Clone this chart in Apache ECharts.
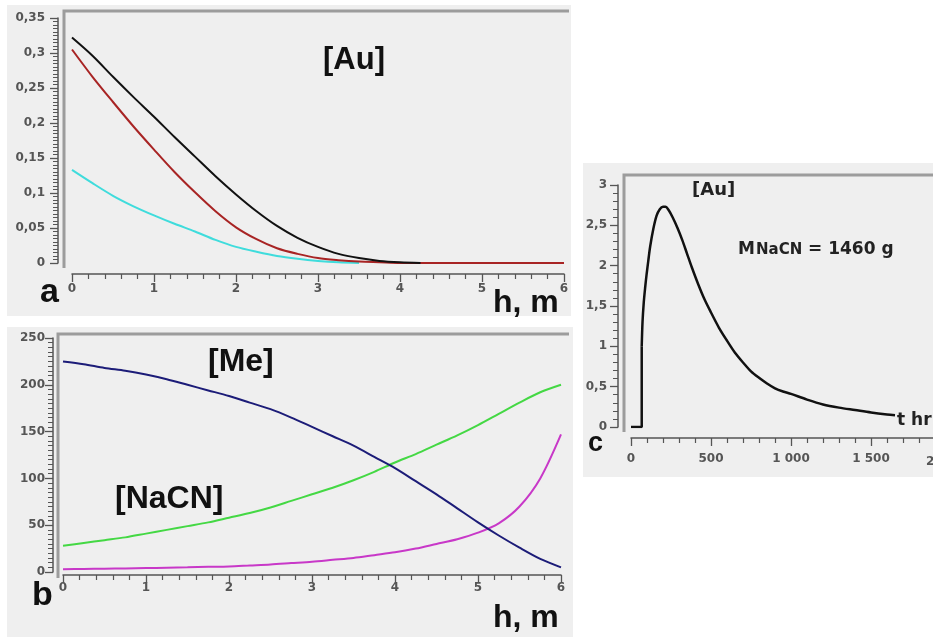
<!DOCTYPE html>
<html>
<head>
<meta charset="utf-8">
<script src="https://cdn.jsdelivr.net/npm/echarts@6/dist/echarts.min.js"></script>
<style>
html,body{margin:0;padding:0;background:#fff;}
#chart{width:933px;height:638px;}
</style>
</head>
<body>
<div id="chart"></div>
<script>
// ---- Panel a: [Au] vs h ----
const hA = [0,0.25,0.5,0.75,1,1.25,1.5,1.75,2,2.25,2.5,2.75,3,3.25,3.5,3.75,4,4.25,4.5,4.75,5,5.25,5.5,5.75,6];
const auBlack = [0.322,0.296,0.266,0.237,0.209,0.180,0.152,0.124,0.098,0.074,0.053,0.036,0.023,0.013,0.007,0.003,0.001,0,null,null,null,null,null,null,null];
const auRed   = [0.305,0.266,0.230,0.195,0.162,0.130,0.101,0.074,0.051,0.034,0.021,0.013,0.007,0.004,0.002,0.001,0,0,0,0,0,0,0,0,0];
const auCyan  = [0.133,0.114,0.096,0.081,0.068,0.056,0.045,0.033,0.023,0.016,0.010,0.006,0.003,0.001,0,null,null,null,null,null,null,null,null,null,null];

// ---- Panel b: [Me], [NaCN] vs h ----
const hB = [0,0.25,0.5,0.75,1,1.25,1.5,1.75,2,2.25,2.5,2.75,3,3.25,3.5,3.75,4,4.25,4.5,4.75,5,5.25,5.5,5.75,6];
const meBlue    = [225,222,218,215,211,206,200,194,188,181,174,165,155,145,135,123,111,97,83,68,53,39,26,14,5];
const nacnGreen = [28,31,34,37,41,45,49,53,58,63,69,76,83,90,98,107,117,126,136,146,157,169,181,192,200];
const magenta   = [3,3.2,3.5,3.8,4.2,4.6,5,5.5,6,7,8,9.5,11,13,15,18,21,25,30,35,42,52,70,100,147];

// ---- Panel c: [Au] vs t (MNaCN = 1460 g) ----
const tC  = [0,67,67,72,80,88,98,108,120,140,160,180,200,215,235,260,290,320,350,380,420,460,500,550,600,650,700,750,800,850,900,950,1000,1100,1200,1300,1400,1500,1600,1650];
const auC = [0,0,1.0,1.3,1.55,1.72,1.9,2.06,2.24,2.46,2.62,2.70,2.73,2.73,2.69,2.60,2.47,2.32,2.15,1.98,1.77,1.58,1.42,1.23,1.07,0.92,0.80,0.69,0.61,0.54,0.48,0.44,0.41,0.34,0.28,0.24,0.21,0.18,0.155,0.145];

const pairs = (xs, ys) => xs.map((x, i) => [x, ys[i]]);
const comma = v => String(+(+v).toFixed(3)).replace('.', ',');
const thousands = v => v >= 1000 ? String(v).replace(/(\d)(\d{3})$/, '$1 $2') : String(v);

const lblStyle = {fontFamily: 'DejaVu Sans', fontSize: 12, fontWeight: 'bold', color: '#555'};
function xAx(gi, min, max, interval, split, offset, margin, fmt) {
  return {
    gridIndex: gi, type: 'value', min, max, interval, offset,
    splitLine: {show: false},
    axisLine: {show: true, onZero: false, lineStyle: {color: '#555', width: 1.5}},
    axisTick: {show: true, length: 8, lineStyle: {color: '#555', width: 1.3}},
    minorTick: {show: true, splitNumber: split, length: 5, lineStyle: {color: '#555', width: 1.2}},
    axisLabel: Object.assign({margin, formatter: fmt, hideOverlap: false}, lblStyle)
  };
}
function yAx(gi, min, max, interval, split, offset, margin, fmt) {
  return {
    gridIndex: gi, type: 'value', min, max, interval, offset,
    splitLine: {show: false},
    axisLine: {show: true, onZero: false, lineStyle: {color: '#555', width: 1.5}},
    axisTick: {show: true, length: 8, lineStyle: {color: '#555', width: 1.3}},
    minorTick: {show: true, splitNumber: split, length: 5, lineStyle: {color: '#555', width: 1}},
    axisLabel: Object.assign({margin, formatter: fmt}, lblStyle)
  };
}
function line(xi, yi, data, color, width, smooth) {
  return {type: 'line', xAxisIndex: xi, yAxisIndex: yi, data, showSymbol: false,
    smooth: smooth, lineStyle: {color, width}, itemStyle: {color}, silent: true, animation: false};
}

const frameColor = '#9c9c9c';
const big = s => 'bold ' + s + 'px "Liberation Sans"';
const dv = s => 'bold ' + s + 'px "DejaVu Sans"';
const graphic = [
  // panel backgrounds
  {type: 'rect', z: -10, shape: {x: 7, y: 5, width: 564, height: 311}, style: {fill: '#efefef'}},
  {type: 'rect', z: -10, shape: {x: 7, y: 327, width: 566, height: 310}, style: {fill: '#efefef'}},
  {type: 'rect', z: -10, shape: {x: 583, y: 163, width: 350, height: 314}, style: {fill: '#efefef'}},
  // plot frames (top + left)
  {type: 'polyline', z: -5, shape: {points: [[64, 268], [64, 11], [569, 11]]}, style: {stroke: frameColor, lineWidth: 3, fill: null}},
  {type: 'polyline', z: -5, shape: {points: [[58, 578], [58, 334], [569, 334]]}, style: {stroke: frameColor, lineWidth: 3, fill: null}},
  {type: 'polyline', z: -5, shape: {points: [[624, 432], [624, 175], [933, 175]]}, style: {stroke: frameColor, lineWidth: 3, fill: null}},
  // panel a texts
  {type: 'text', z: 10, x: 323, y: 45, style: {text: '[Au]', font: big(31), fill: '#111'}},
  {type: 'text', z: 10, x: 493, y: 287, style: {text: 'h, m', font: big(32), fill: '#111'}},
  {type: 'text', z: 10, x: 40, y: 276, style: {text: 'a', font: big(34), fill: '#111'}},
  // panel b texts
  {type: 'text', z: 10, x: 208, y: 346, style: {text: '[Me]', font: big(32), fill: '#111'}},
  {type: 'text', z: 10, x: 115, y: 483, style: {text: '[NaCN]', font: big(32), fill: '#111'}},
  {type: 'text', z: 10, x: 493, y: 602, style: {text: 'h, m', font: big(32), fill: '#111'}},
  {type: 'text', z: 10, x: 32, y: 579, style: {text: 'b', font: big(34), fill: '#111'}},
  // panel c texts
  {type: 'text', z: 10, x: 692, y: 181, style: {text: '[Au]', font: dv(18), fill: '#222'}},
  {type: 'text', z: 10, x: 738, y: 258, style: {text: 'M', font: dv(17), fill: '#222', verticalAlign: 'bottom'}},
  {type: 'text', z: 10, x: 756, y: 258, style: {text: 'NaCN', font: dv(15), fill: '#222', verticalAlign: 'bottom'}},
  {type: 'text', z: 10, x: 808, y: 258, style: {text: '= 1460 g', font: dv(17), fill: '#222', verticalAlign: 'bottom'}},
  {type: 'text', z: 10, x: 897, y: 412, style: {text: 't hr', font: dv(17), fill: '#222'}},
  {type: 'text', z: 10, x: 588, y: 430, style: {text: 'c', font: big(27), fill: '#111'}},
  // partially visible last tick label of panel c
  {type: 'text', z: 10, x: 926, y: 456, style: {text: '2', font: dv(12), fill: '#555'}}
];

const option = {
  backgroundColor: '#ffffff',
  animation: false,
  grid: [
    {left: 72, top: 18, width: 492, height: 245, show: false, outerBoundsMode: 'none', containLabel: false},
    {left: 63, top: 338, width: 498, height: 234, show: false, outerBoundsMode: 'none', containLabel: false},
    {left: 631, top: 185, width: 320, height: 242, show: false, outerBoundsMode: 'none', containLabel: false}
  ],
  xAxis: [
    xAx(0, 0, 6, 1, 5, 11, 9, v => String(v)),
    xAx(1, 0, 6, 1, 5, 3, 7, v => String(v)),
    xAx(2, 0, 2000, 500, 5, 11, 15, v => v >= 2000 ? '' : thousands(v))
  ],
  yAxis: [
    yAx(0, 0, 0.35, 0.05, 10, 14, 13, v => comma(v)),
    yAx(1, 0, 250, 50, 10, 10, 8, v => String(v)),
    yAx(2, 0, 3, 0.5, 5, 13, 11, v => comma(v))
  ],
  graphic,
  series: [
    line(0, 0, pairs(hA, auCyan), '#3fdcdc', 2, 0.3),
    line(0, 0, pairs(hA, auRed), '#a82424', 2, 0.3),
    line(0, 0, pairs(hA, auBlack), '#111111', 2, 0.3),
    line(1, 1, pairs(hB, magenta), '#c838c8', 2, 0.3),
    line(1, 1, pairs(hB, nacnGreen), '#44d844', 2, 0.3),
    line(1, 1, pairs(hB, meBlue), '#1c1c78', 2, 0.3),
    line(2, 2, pairs(tC.slice(0, 3), auC.slice(0, 3)), '#111111', 2.5, false),
    line(2, 2, pairs(tC.slice(2), auC.slice(2)), '#111111', 2.5, 0.3)
  ]
};
const chart = echarts.init(document.getElementById('chart'), null, {renderer: 'canvas'});
chart.setOption(option);
</script>
</body>
</html>
